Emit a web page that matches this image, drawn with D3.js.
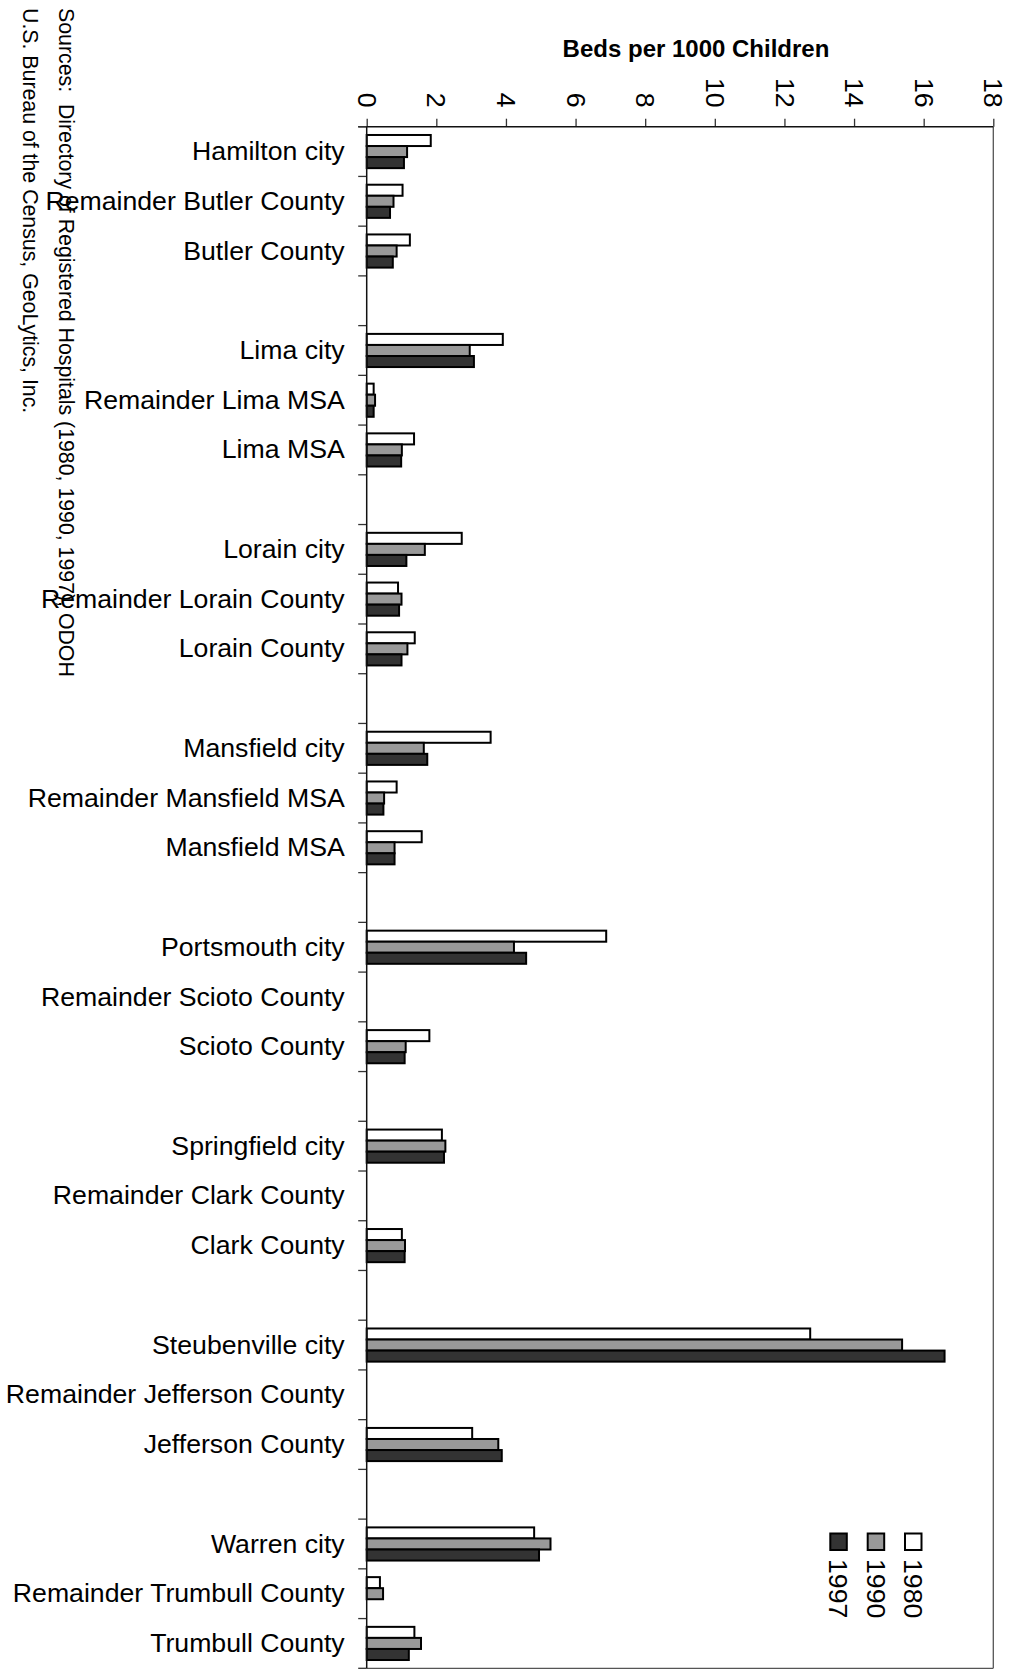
<!DOCTYPE html>
<html>
<head>
<meta charset="utf-8">
<script src="https://cdn.jsdelivr.net/npm/d3@7"></script>
<style>
  html, body { margin: 0; padding: 0; background: #fff; }
  svg { display: block; }
  text { font-family: "Liberation Sans", Arial, sans-serif; fill: #000; }
</style>
</head>
<body>
<svg id="chart" width="1011" height="1670"></svg>
<script>
// ---- data ----
const categories = [
  "Hamilton city", "Remainder Butler County", "Butler County", "",
  "Lima city", "Remainder Lima MSA", "Lima MSA", "",
  "Lorain city", "Remainder Lorain County", "Lorain County", "",
  "Mansfield city", "Remainder Mansfield MSA", "Mansfield MSA", "",
  "Portsmouth city", "Remainder Scioto County", "Scioto County", "",
  "Springfield city", "Remainder Clark County", "Clark County", "",
  "Steubenville city", "Remainder Jefferson County", "Jefferson County", "",
  "Warren city", "Remainder Trumbull County", "Trumbull County"
];
const years = ["1980", "1990", "1997"];
const values1980 = [1.84, 1.03, 1.24, null, 3.91, 0.20, 1.36, null, 2.73, 0.90, 1.38, null,
  3.56, 0.86, 1.58, null, 6.88, null, 1.80, null, 2.16, null, 1.01, null,
  12.74, null, 3.03, null, 4.81, 0.38, 1.37];
const values1990 = [1.16, 0.77, 0.86, null, 2.96, 0.24, 1.01, null, 1.67, 1.00, 1.17, null,
  1.64, 0.50, 0.80, null, 4.23, null, 1.12, null, 2.26, null, 1.10, null,
  15.38, null, 3.78, null, 5.28, 0.47, 1.56];
const values1997 = [1.07, 0.67, 0.75, null, 3.08, 0.20, 0.99, null, 1.14, 0.93, 1.00, null,
  1.74, 0.48, 0.80, null, 4.58, null, 1.09, null, 2.22, null, 1.09, null,
  16.60, null, 3.88, null, 4.95, null, 1.21];
const xTicks = [0, 2, 4, 6, 8, 10, 12, 14, 16, 18];
const fills = ["#ffffff", "#999999", "#333333"];
const titleText = "Beds per 1000 Children";
const sourceLines = [
  "Sources:  Directory of Registered Hospitals (1980, 1990, 1997), ODOH",
  "U.S. Bureau of the Census, GeoLytics, Inc."
];

// ---- layout ----
const svg = d3.select("#chart");
const plotL = 366.7, plotR = 993.3, plotT = 126.7, plotB = 1668.3;
const FONT = 26.67;

const x = d3.scaleLinear().domain([0, 18]).range([plotL, plotR]);
const y = d3.scaleBand().domain(d3.range(categories.length)).range([plotT, plotB]).padding(0);
const ySub = d3.scaleBand().domain(years).range([0, y.bandwidth()]).paddingInner(0).paddingOuter(0.75);
const series = [values1980, values1990, values1997];

// title
svg.append("text")
  .attr("x", 696).attr("y", 57)
  .attr("text-anchor", "middle")
  .style("font-weight", "bold").style("font-size", "24px")
  .text(titleText);

// sources (rotated)
const srcX = [58.5, 22.8];
sourceLines.forEach((t, i) => {
  svg.append("text")
    .attr("transform", `translate(${srcX[i]},8) rotate(90)`)
    .style("font-size", "21.3px")
    .style("white-space", "pre")
    .text(t);
});

// frame lines (right, bottom)
svg.append("line").attr("x1", plotR).attr("x2", plotR).attr("y1", plotT).attr("y2", plotB)
  .attr("stroke", "#555").attr("stroke-width", 1.3);
svg.append("line").attr("x1", plotL).attr("x2", plotR).attr("y1", plotB).attr("y2", plotB)
  .attr("stroke", "#555").attr("stroke-width", 1.3);

// bars
series.forEach((vals, si) => {
  svg.append("g").selectAll("rect")
    .data(vals.map((v, i) => ({ v, i })).filter(d => d.v !== null))
    .join("rect")
    .attr("x", x(0))
    .attr("y", d => y(d.i) + ySub(years[si]))
    .attr("width", d => x(d.v) - x(0))
    .attr("height", ySub.bandwidth())
    .attr("fill", fills[si])
    .attr("stroke", "#000")
    .attr("stroke-width", 2);
});

// top value axis
const xAxis = d3.axisTop(x).tickValues(xTicks).tickSize(8).tickSizeOuter(0).tickFormat(d3.format("d"));
const gx = svg.append("g").attr("transform", `translate(0,${plotT})`).call(xAxis);
gx.select(".domain").remove();
gx.selectAll(".tick line").attr("stroke", "#333").attr("stroke-width", 1.3);
gx.selectAll(".tick text")
  .attr("transform", "rotate(90)")
  .attr("x", -19).attr("y", 0).attr("dy", "0.35em")
  .attr("text-anchor", "end")
  .style("font-size", FONT + "px")
  .style("font-family", "'Liberation Sans', Arial, sans-serif")
  .attr("fill", "#000");
svg.append("line").attr("x1", plotL - 8.5).attr("x2", plotR).attr("y1", plotT).attr("y2", plotT)
  .attr("stroke", "#111").attr("stroke-width", 1.5);

// left category axis
const yAxis = d3.axisLeft(y).tickSize(0).tickPadding(22).tickFormat(i => categories[i]);
const gy = svg.append("g").attr("transform", `translate(${plotL},0)`).call(yAxis);
gy.select(".domain").remove();
gy.selectAll(".tick text")
  .style("font-size", FONT + "px")
  .style("font-family", "'Liberation Sans', Arial, sans-serif")
  .attr("fill", "#000");
const boundaries = d3.range(categories.length).map(i => y(i)).concat([y(categories.length - 1) + y.bandwidth()]);
svg.append("g").selectAll("line").data(boundaries).join("line")
  .attr("x1", plotL - 8.5).attr("x2", plotL).attr("y1", d => d).attr("y2", d => d)
  .attr("stroke", "#333").attr("stroke-width", 1.3);
svg.append("line").attr("x1", plotL).attr("x2", plotL).attr("y1", plotT).attr("y2", plotB)
  .attr("stroke", "#111").attr("stroke-width", 1.5);

// legend (rotated)
const legX = [904, 866.7, 829.3];
years.forEach((yr, i) => {
  svg.append("rect")
    .attr("x", legX[i] + 1).attr("y", 1533.5).attr("width", 16.5).attr("height", 16.5)
    .attr("fill", fills[i]).attr("stroke", "#000").attr("stroke-width", 2);
  svg.append("text")
    .attr("transform", `translate(${legX[i]},1559) rotate(90)`)
    .style("font-size", FONT + "px")
    .text(yr);
});
</script>
</body>
</html>
